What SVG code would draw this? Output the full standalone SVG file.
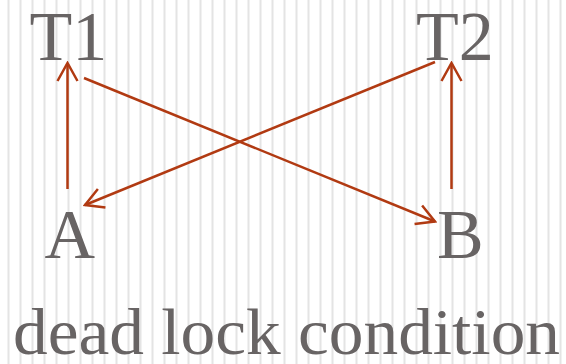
<svg xmlns="http://www.w3.org/2000/svg" width="566" height="364" viewBox="0 0 566 364">
<defs>
<pattern id="grid" x="0" y="0" width="12" height="364" patternUnits="userSpaceOnUse">
<rect x="7.5" y="0" width="2" height="364" fill="#e4e4e4"/>
</pattern>
<marker id="ah" viewBox="-20 -12 22 24" refX="0" refY="0" markerWidth="22" markerHeight="24" markerUnits="userSpaceOnUse" orient="auto">
<path d="M -18 -10 L 0 0 L -18 10" fill="none" stroke="#b13a12" stroke-width="2.5"/>
</marker>
</defs>
<style>
.lbl { font-family: "Liberation Serif", "Times New Roman", serif; font-size: 70px; fill: #686464; }
.cap { font-size: 65px; }
.edge { stroke: #b13a12; stroke-width: 2.5; fill: none; marker-end: url(#ah); }
</style>
<rect x="0" y="0" width="566" height="364" fill="#ffffff"/>
<rect x="0" y="0" width="566" height="364" fill="url(#grid)"/>
<g id="connectors">
<line class="edge" x1="67.5" y1="189" x2="67.5" y2="63"/>
<line class="edge" x1="451.5" y1="189" x2="451.5" y2="63"/>
<line class="edge" x1="84" y1="78" x2="435" y2="221.5"/>
<line class="edge" x1="435" y1="62" x2="85" y2="205"/>
</g>
<g id="T1"><text class="lbl" x="29.5" y="59.5">T1</text></g>
<g id="T2"><text class="lbl" x="416" y="59.5">T2</text></g>
<g id="A"><text class="lbl" x="44.5" y="257.5">A</text></g>
<g id="B"><text class="lbl" x="437" y="257.5">B</text></g>
<g id="caption"><text class="lbl cap" x="13" y="354" textLength="547" lengthAdjust="spacingAndGlyphs">dead lock condition</text></g>
</svg>
